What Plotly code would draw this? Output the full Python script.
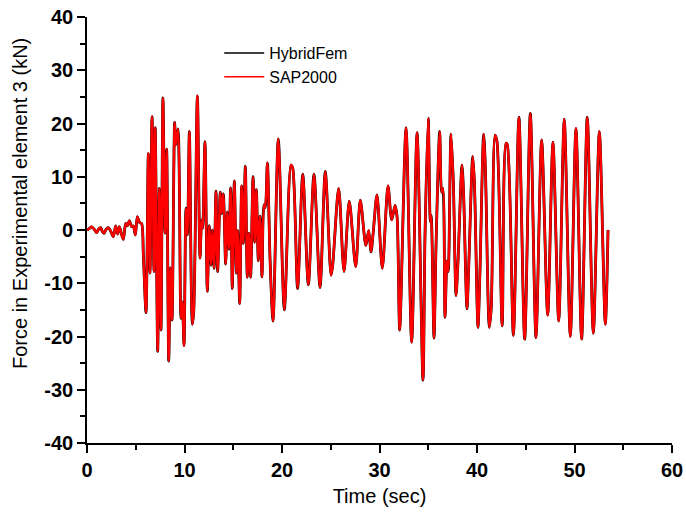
import plotly.graph_objects as go

# Time (sec) of the read-off points
time_sec = [
    0, 0.25, 0.48, 0.75, 0.99, 1.2, 1.4, 1.55, 1.74, 1.95, 2.19, 2.45, 2.7, 2.94,
    3.15, 3.32, 3.56, 3.73, 3.97, 4.15, 4.34, 4.58, 4.75, 4.96, 5.16, 5.4, 5.6,
    5.78, 6.05, 6.29, 6.46, 6.67, 6.87, 7.0, 7.25, 7.42, 7.59, 7.79, 8.0, 8.17,
    8.38, 8.55, 8.72, 8.99, 9.1, 9.33, 9.64, 9.78, 9.95, 10.15, 10.3, 10.5, 10.8,
    10.94, 11.32, 11.59, 11.76, 11.86, 12.1, 12.34, 12.55, 12.72, 12.86, 13.03,
    13.23, 13.4, 13.67, 13.8, 13.98, 14.22, 14.39, 14.56, 14.73, 14.9, 15.11,
    15.32, 15.45, 15.66, 15.86, 16.03, 16.24, 16.44, 16.6, 16.78, 17.03, 17.2,
    17.37, 17.57, 17.74, 17.95, 18.15, 18.28, 18.5, 18.77, 19.08, 19.62, 20.24,
    20.92, 21.1, 21.6, 22.13, 22.7, 23.28, 23.9, 24.44, 25.03, 25.2, 25.81, 26.36,
    26.9, 27.56, 28.03, 28.6, 28.89, 29.13, 29.35, 29.74, 30.29, 30.87, 31.25,
    31.6, 31.8, 32.07, 32.72, 33.3, 33.85, 34.46, 34.67, 35.0, 35.21, 35.3, 35.59,
    35.8, 36.17, 36.37, 36.5, 36.72, 36.92, 37.05, 37.33, 37.57, 37.85, 38.05,
    38.46, 38.63, 38.97, 39.18, 39.56, 39.73, 40.1, 40.3, 40.68, 40.85, 41.26,
    41.46, 41.85, 42.05, 42.58, 42.97, 43.1, 43.73, 44.3, 44.89, 45.47, 46.05,
    46.63, 47.25, 47.79, 48.38, 48.95, 49.57, 50.15, 50.73, 51.31, 51.93, 52.55,
    53.16, 53.44,
]

# SAP2000 force (kN)
sap2000_force = [
    0, 0.3, 0.6, 0.1, -0.5, 0.2, 0.44, -0.2, -0.63, 0.1, 0.44, -0.3, -1.25, 0.75,
    -0.75, 0.63, -0.94, -1.75, 1.25, 0.8, 1.75, 0.63, 0.75, -0.94, 2.5, 1.4, 1.2,
    -4.7, -15.5, 14.4, -8.1, 21.3, -7.8, 19.2, -22.8, 7.8, -18.8, 24.8, -0.6, 15.2,
    -24.6, -7.1, -16.9, 20.2, 16.0, 19.0, -16.6, -13.5, -21.7, 4.1, -0.9, 18.5, -17.7,
    -15.5, 25.2, -5.3, 1.9, 0.3, 16.6, -11.5, 0.8, -6.6, 0.0, -7.2,
    7.3, -7.8, 7.1, 3.1, 6.8, -6.4, 3.4, -3.6, 7.9, -11.0, 9.2,
    -8.1, -0.1, -13.8, 8.3, -2.5, 12.0, -8.9, -0.6, -8.9, 10.0, -2.3,
    7.6, -5.8, 2.6, -8.8, 4.7, 4.2, 12.6, -5.3, -17.1, 17.1, -15.0,
    12.2, 11.6, -11.0, 10.5, -10.3, 10.5, -10.8, 11.0, -8.5, -6.6, 7.8, -7.8,
    5.4, -6.9, 5.6, -2.9, -0.1, -4.1, -0.6, 6.6, -7.2, 8.3, 1.9,
    4.6, 2.5, -18.8, 19.2, -21.1, 18.3, -28.2, -0.8, 21.0, 1.6, 2.8, -20.3,
    -2.8, 18.5, 7.1, 7.8, -16.4, -5.8, -7.8, 18.0, 9.1, -12.3, -6.0,
    12.2, 6.5, -14.8, -5.3, 13.8, 9.1, -18.3, -8.1, 18.0, 12.3, -18.3,
    -14.6, 17.8, 16.6, -18.0, 16.3, 16.1, -19.8, 21.2, -20.5, 21.9, -20.2,
    16.9, -16.0, 16.5, -17.1, 20.8, -20.0, 19.1, -20.5, 21.2, -19.4, 18.5,
    -17.7, 0.0,
]

# HybridFem force (kN) - coincides with SAP2000 at the resolution of the picture
hybridfem_force = list(sap2000_force)

x_ticks = [0, 10, 20, 30, 40, 50, 60]
y_ticks = [-40, -30, -20, -10, 0, 10, 20, 30, 40]

FONT = "Liberation Sans, Arial, sans-serif"

fig = go.Figure()
fig.add_trace(go.Scatter(
    x=time_sec, y=hybridfem_force, mode="lines", name="HybridFem", showlegend=False,
    line=dict(color="black", width=2.8, shape="spline", smoothing=0.8),
))
fig.add_trace(go.Scatter(
    x=time_sec, y=sap2000_force, mode="lines", name="SAP2000", showlegend=False,
    line=dict(color="#ff0000", width=2.4, shape="spline", smoothing=0.8),
))
# legend entries (thin line samples as in the reference)
fig.add_trace(go.Scatter(x=[None], y=[None], mode="lines", name="HybridFem",
                         line=dict(color="black", width=1.5)))
fig.add_trace(go.Scatter(x=[None], y=[None], mode="lines", name="SAP2000",
                         line=dict(color="#ff0000", width=1.5)))

axis_common = dict(
    showline=True, linecolor="black", linewidth=1.7, mirror=False,
    showgrid=False, zeroline=False, ticks="outside", ticklen=8, tickwidth=1.7,
    tickcolor="black", automargin=False,
    tickfont=dict(family=FONT, size=20, color="black"),
)

fig.update_xaxes(
    range=[0, 60], tickvals=x_ticks, ticktext=["<b>%d</b>" % v for v in x_ticks],
    title=dict(text="Time (sec)", font=dict(family=FONT, size=20, color="black"), standoff=9),
    minor=dict(ticks="outside", dtick=5, tick0=0, ticklen=5, tickwidth=1.7, tickcolor="black"),
    **axis_common,
)
fig.update_yaxes(
    range=[-40, 40], tickvals=y_ticks, ticktext=["<b>%d</b>" % v for v in y_ticks],
    minor=dict(ticks="outside", dtick=5, tick0=0, ticklen=5, tickwidth=1.7, tickcolor="black"),
    **axis_common,
)

fig.add_annotation(
    text="Force in Experimental element 3 (kN)", textangle=-90,
    xref="paper", yref="paper", x=(20 - 87) / 585, y=(443 - 204) / 426,
    xanchor="center", yanchor="middle", showarrow=False,
    font=dict(family=FONT, size=20, color="black"),
)

fig.update_layout(
    width=686, height=519,
    margin=dict(l=87, r=14, t=17, b=76),
    paper_bgcolor="white", plot_bgcolor="white",
    showlegend=True,
    legend=dict(
        x=0.226, y=0.955, xanchor="left", yanchor="top",
        bgcolor="rgba(0,0,0,0)", borderwidth=0,
        font=dict(family=FONT, size=16, color="black"),
        tracegroupgap=0, itemwidth=40,
    ),
)

fig.write_html("out.html")
